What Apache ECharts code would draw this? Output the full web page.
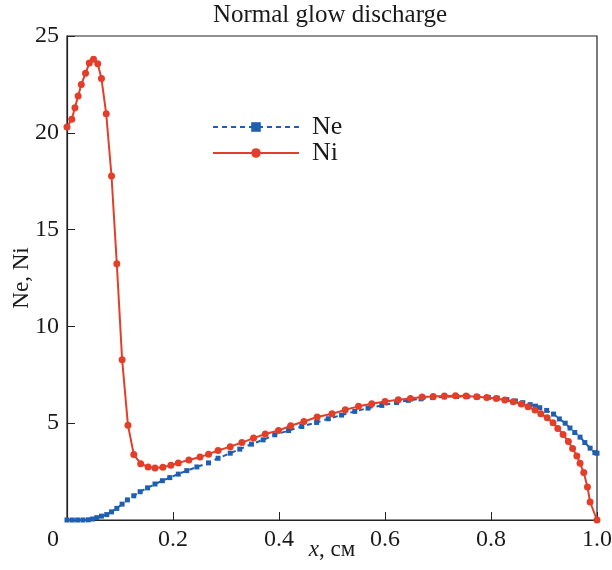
<!DOCTYPE html>
<html><head><meta charset="utf-8">
<script src="https://cdn.jsdelivr.net/npm/echarts@6/dist/echarts.min.js"></script>
<style>html,body{margin:0;padding:0;background:#fff}#c{width:612px;height:570px}</style>
</head><body><div id="c"></div>
<script>
const title = "Normal glow discharge";
const xTicks = [0, 0.2, 0.4, 0.6, 0.8, 1.0];
const yTicks = [5, 10, 15, 20, 25];
const neData = [[0,0],[0.01,0],[0.02,0],[0.03,0],[0.04,0.01],[0.048,0.05],[0.056,0.12],[0.065,0.2],[0.075,0.28],[0.084,0.42],[0.094,0.6],[0.104,0.82],[0.114,1.04],[0.126,1.25],[0.138,1.46],[0.152,1.66],[0.166,1.86],[0.18,2.03],[0.194,2.19],[0.21,2.37],[0.226,2.55],[0.245,2.74],[0.267,2.95],[0.285,3.19],[0.308,3.45],[0.326,3.66],[0.348,3.92],[0.37,4.14],[0.392,4.4],[0.418,4.62],[0.443,4.83],[0.471,5.04],[0.493,5.23],[0.518,5.42],[0.543,5.61],[0.568,5.78],[0.594,5.92],[0.622,6.07],[0.644,6.18],[0.668,6.26],[0.69,6.32],[0.712,6.36],[0.735,6.38],[0.755,6.38],[0.775,6.36],[0.795,6.33],[0.812,6.29],[0.83,6.22],[0.846,6.15],[0.86,6.06],[0.874,5.96],[0.884,5.88],[0.892,5.8],[0.905,5.66],[0.918,5.47],[0.929,5.22],[0.94,5.0],[0.949,4.75],[0.958,4.52],[0.968,4.28],[0.977,4.0],[0.987,3.71],[0.996,3.48],[1.0,3.45]];
const niData = [[0,20.3],[0.009,20.7],[0.015,21.3],[0.021,21.9],[0.027,22.5],[0.035,23.07],[0.042,23.6],[0.05,23.8],[0.058,23.57],[0.065,22.8],[0.074,20.98],[0.084,17.77],[0.094,13.23],[0.104,8.28],[0.115,4.9],[0.126,3.38],[0.139,2.91],[0.153,2.74],[0.166,2.69],[0.181,2.73],[0.196,2.83],[0.21,2.95],[0.23,3.1],[0.251,3.25],[0.267,3.4],[0.285,3.59],[0.308,3.79],[0.33,4.0],[0.352,4.23],[0.374,4.44],[0.399,4.62],[0.422,4.87],[0.447,5.09],[0.472,5.32],[0.5,5.49],[0.525,5.69],[0.55,5.87],[0.575,6.0],[0.6,6.12],[0.625,6.21],[0.648,6.28],[0.67,6.35],[0.691,6.38],[0.712,6.4],[0.733,6.42],[0.753,6.4],[0.773,6.37],[0.792,6.33],[0.81,6.28],[0.826,6.2],[0.842,6.11],[0.857,5.99],[0.87,5.85],[0.883,5.68],[0.894,5.49],[0.906,5.28],[0.917,5.02],[0.926,4.73],[0.936,4.42],[0.946,4.05],[0.954,3.69],[0.962,3.31],[0.968,2.93],[0.975,2.45],[0.982,1.71],[0.987,0.93],[1.0,0]];

const FONT = '"Liberation Serif", "DejaVu Serif", serif';
const chart = echarts.init(document.getElementById('c'));
chart.setOption({
  animation: false,
  title: { text: title, left: 330, textAlign: 'center', top: 3, padding: 0,
    textStyle: { fontFamily: FONT, fontSize: 25, fontWeight: 'normal', color: '#1a1a1a' } },
  grid: { left: 67, right: 15, top: 36, bottom: 50, show: true, borderColor: '#222', borderWidth: 1.2,
    containLabel: false, outerBoundsMode: 'none' },
  legend: {
    left: 212, top: 114, orient: 'vertical', itemWidth: 86, itemHeight: 12, itemGap: 0, padding: 0,
    textStyle: { fontFamily: FONT, fontSize: 26, lineHeight: 26, color: '#1a1a1a', padding: [0,0,0,8] },
    data: ['Ne', 'Ni']
  },
  xAxis: {
    type: 'value', min: 0, max: 1, interval: 0.2,
    name: '{i|x}, см', nameLocation: 'middle', nameGap: 18, nameMoveOverlap: false,
    nameTextStyle: { fontFamily: FONT, fontSize: 23, color: '#1a1a1a',
      rich: { i: { fontFamily: FONT, fontSize: 23, fontStyle: 'italic', color: '#1a1a1a' } } },
    axisLine: { lineStyle: { color: '#222', width: 1.2 } },
    axisTick: { inside: true, length: 8, lineStyle: { color: '#222' } },
    splitLine: { show: false },
    axisLabel: { fontFamily: FONT, fontSize: 24, color: '#1a1a1a', margin: 8,
      formatter: v => v === 0 ? '{z|0}' : (v === 1 ? '1.0' : String(Math.round(v * 10) / 10)),
      rich: { z: { fontFamily: FONT, fontSize: 24, color: '#1a1a1a', padding: [0, 28, 0, 0] } } }
  },
  yAxis: {
    type: 'value', min: 0, max: 25, interval: 5,
    name: 'Ne, Ni', nameLocation: 'middle', nameGap: 34, nameRotate: 90, nameMoveOverlap: false,
    nameTextStyle: { fontFamily: FONT, fontSize: 23, color: '#1a1a1a' },
    axisLine: { lineStyle: { color: '#222', width: 1.2 } },
    axisTick: { inside: true, length: 8, lineStyle: { color: '#222' } },
    splitLine: { show: false },
    axisLabel: { fontFamily: FONT, fontSize: 24, color: '#1a1a1a', margin: 8,
      formatter: v => v === 0 ? '' : String(v) }
  },
  series: [
    { name: 'Ne', type: 'line', data: neData, symbol: 'rect', symbolSize: 5,
      itemStyle: { color: '#1f5fb0' },
      lineStyle: { color: '#1f5fb0', width: 2, type: [5, 4] }, z: 2 },
    { name: 'Ni', type: 'line', data: niData, symbol: 'circle', symbolSize: 7,
      itemStyle: { color: '#e23f2a' },
      lineStyle: { color: '#e23f2a', width: 2 }, z: 3 }
  ]
});
</script></body></html>
